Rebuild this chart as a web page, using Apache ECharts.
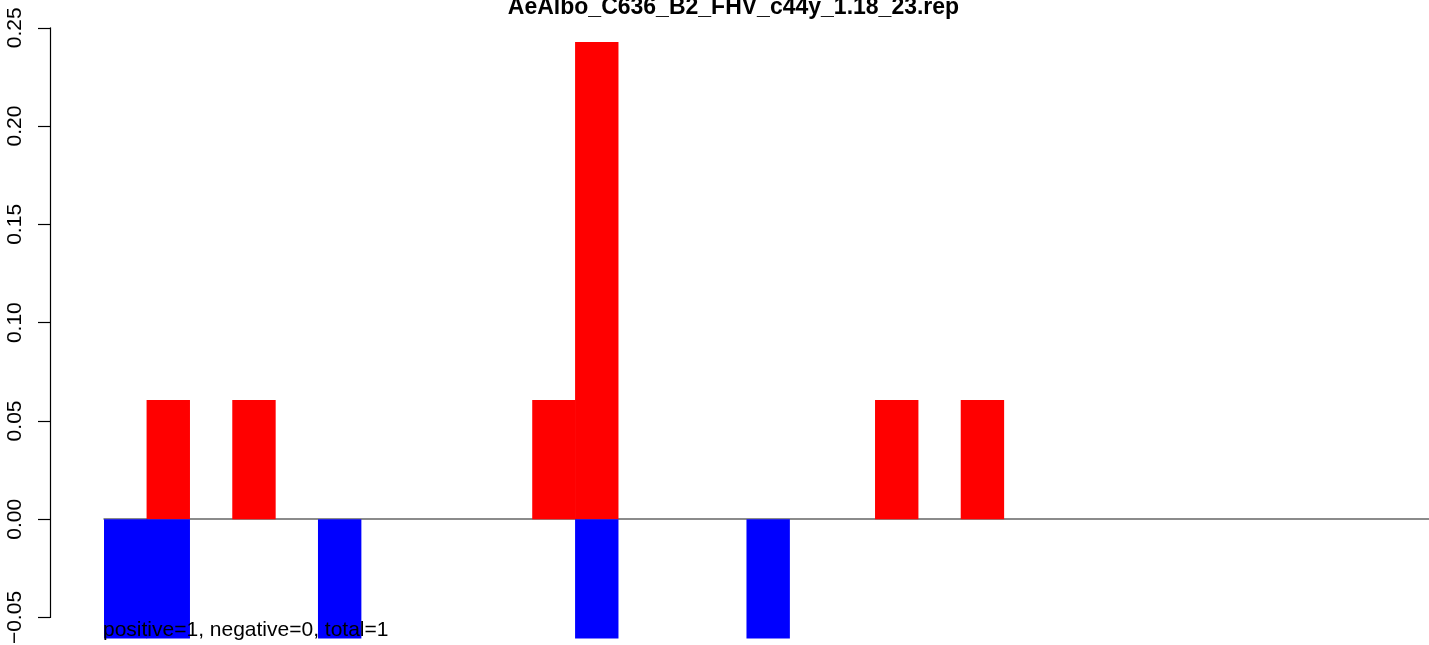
<!DOCTYPE html>
<html>
<head>
<meta charset="utf-8">
<script src="https://cdn.jsdelivr.net/npm/echarts@6/dist/echarts.min.js"></script>
<style>
html,body{margin:0;padding:0;background:#fff;}
#chart{width:1429px;height:645px;}
</style>
</head>
<body>
<div id="chart"></div>
<script>
const titleText = 'AeAlbo_C636_B2_FHV_c44y_1.18_23.rep';
const noteText = 'positive=1, negative=0, total=1';
const categories = ['1','2','3','4','5','6','7','8','9','10','11','12','13','14','15','16','17','18','19','20','21','22','23','24','25','26','27','28','29','30','31'];
const positiveValues = [0, 0.0607, 0, 0.0607, 0, 0, 0, 0, 0, 0, 0.0607, 0.2428, 0, 0, 0, 0, 0, 0, 0.0607, 0, 0.0607, 0, 0, 0, 0, 0, 0, 0, 0, 0, 0];
const negativeValues = [-0.0607, -0.0607, 0, 0, 0, -0.0607, 0, 0, 0, 0, 0, -0.0607, 0, 0, 0, -0.0607, 0, 0, 0, 0, 0, 0, 0, 0, 0, 0, 0, 0, 0, 0, 0];
const yTicks = [-0.05, 0, 0.05, 0.10, 0.15, 0.20, 0.25];

const pxPerUnit = 1965.7;
const yTopVal = 0.25, yAxisMin = -0.05, dataMin = -0.0607;
const topPx = 27.8;
const slot = 42.85;
const font = '"Liberation Sans", Arial, Helvetica, sans-serif';

const chart = echarts.init(document.getElementById('chart'), null, {renderer: 'canvas'});
chart.setOption({
  animation: false,
  backgroundColor: '#ffffff',
  title: [
    {text: titleText, left: 733.5, top: -4, textAlign: 'center', padding: 0,
     textStyle: {fontFamily: font, fontWeight: 'bold', fontSize: 23, color: '#000'}},
    {text: noteText, left: 103, top: 620, padding: 0,
     textStyle: {fontFamily: font, fontWeight: 'normal', fontSize: 21, color: '#000'}}
  ],
  grid: [
    {left: 50, top: topPx, width: 10, height: (yTopVal - yAxisMin) * pxPerUnit, containLabel: false, outerBoundsMode: 'none'},
    {left: 104, top: topPx, width: categories.length * slot, height: (yTopVal - dataMin) * pxPerUnit, containLabel: false, outerBoundsMode: 'none'}
  ],
  xAxis: [
    {gridIndex: 0, type: 'value', show: false},
    {gridIndex: 1, type: 'category', data: categories,
     axisLine: {show: true, onZero: true, lineStyle: {color: '#666666', width: 1.5}},
     axisTick: {show: false}, axisLabel: {show: false}, splitLine: {show: false}}
  ],
  yAxis: [
    {gridIndex: 0, type: 'value', min: yAxisMin, max: yTopVal, interval: 0.05,
     position: 'left',
     axisLine: {show: true, lineStyle: {color: '#000', width: 1.2}},
     axisTick: {show: true, length: 12, lineStyle: {color: '#000', width: 1.2}, customValues: yTicks},
     axisLabel: {show: true, rotate: 90, margin: 24, color: '#000', fontFamily: font, fontSize: 21,
       customValues: yTicks,
       formatter: v => v.toFixed(2).replace('-', '\u2212')},
     splitLine: {show: false}},
    {gridIndex: 1, type: 'value', min: dataMin, max: yTopVal, show: false, splitLine: {show: false}}
  ],
  series: [
    {type: 'bar', xAxisIndex: 1, yAxisIndex: 1, data: positiveValues,
     itemStyle: {color: '#ff0000'}, barWidth: 43.4, barGap: '-100%', clip: true, z: 3},
    {type: 'bar', xAxisIndex: 1, yAxisIndex: 1, data: negativeValues,
     itemStyle: {color: '#0000ff'}, barWidth: 43.4, barGap: '-100%', clip: true, z: 3}
  ]
});
</script>
</body>
</html>
